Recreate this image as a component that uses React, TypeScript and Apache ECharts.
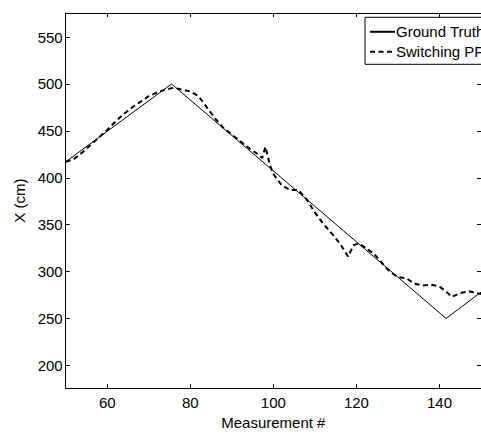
import React, { useEffect, useRef } from "react";
import * as echarts from "echarts";

const xTicks = [60, 80, 100, 120, 140];
const yTicks = [200, 250, 300, 350, 400, 450, 500, 550];

const truthX = [50, 75.5, 141.6, 150];
const truthY = [417, 500, 250, 278];

const pfX = [50, 52, 54, 56, 58, 60, 62, 64, 66, 68, 70, 72, 74, 76, 78, 80, 82, 84, 86, 88, 90, 92, 94, 96, 97.3, 98.1, 99.2, 100, 102, 104, 106, 108, 110, 112, 114, 116, 118, 119.3, 120.5, 122, 123.2, 124, 126, 128, 130, 132, 134, 136, 138, 140, 141.5, 143, 145, 147, 150];
const pfY = [417, 420, 427, 435, 443, 451, 460, 468, 475, 481, 487, 491, 494, 496, 494, 492, 487, 475, 463, 453, 446, 439, 432, 426, 421, 433, 413, 404, 392, 387, 387, 377, 363, 351, 341, 330, 316, 328, 330, 326, 322, 320, 310, 300, 294, 293, 287, 285, 286, 284, 279, 273, 277, 279, 276];

const FONT = "'Liberation Sans', Arial, Helvetica, sans-serif";

export default function App() {
  const ref = useRef<HTMLDivElement>(null);
  useEffect(() => {
    if (!ref.current) return;
    const chart = echarts.init(ref.current, undefined, { renderer: "svg" });
    const axisLine = { show: true, onZero: false, lineStyle: { color: "#000", width: 1 } };
    chart.setOption({
      animation: false,
      backgroundColor: "#fff",
      textStyle: { fontFamily: FONT },
      grid: { left: 65.7, right: -9.7, top: 13, bottom: 42.7, containLabel: false },
      legend: {
        orient: "vertical",
        left: 365,
        top: 17.3,
        padding: [6, 4, 4, 4],
        itemGap: 3,
        itemWidth: 25,
        itemHeight: 10,
        backgroundColor: "#fff",
        borderColor: "#000",
        borderWidth: 1,
        borderRadius: 0,
        itemStyle: { opacity: 0 },
        textStyle: { fontFamily: FONT, fontSize: 15, color: "#000", lineHeight: 17, padding: [0, 0, 0, -4] },
        data: ["Ground Truth", "Switching PF"],
      },
      xAxis: [
        {
          type: "value",
          min: 50,
          max: 150,
          position: "bottom",
          name: "Measurement #",
          nameLocation: "middle",
          nameGap: 22,
          nameTextStyle: { fontFamily: FONT, fontSize: 15, color: "#000" },
          axisLine,
          axisTick: { show: true, inside: true, length: 4, customValues: xTicks, lineStyle: { color: "#000" } },
          axisLabel: { customValues: xTicks, margin: 7, fontFamily: FONT, fontSize: 15, color: "#000" },
          splitLine: { show: false },
        },
        {
          type: "value",
          min: 50,
          max: 150,
          position: "top",
          axisLine,
          axisTick: { show: true, inside: true, length: 4, customValues: xTicks, lineStyle: { color: "#000" } },
          axisLabel: { show: false },
          splitLine: { show: false },
        },
      ],
      yAxis: [
        {
          type: "value",
          min: 175.7,
          max: 575.7,
          position: "left",
          name: "X (cm)",
          nameLocation: "middle",
          nameGap: 31,
          nameTextStyle: { fontFamily: FONT, fontSize: 15, color: "#000" },
          axisLine,
          axisTick: { show: true, inside: true, length: 4, customValues: yTicks, lineStyle: { color: "#000" } },
          axisLabel: { customValues: yTicks, margin: 3, fontFamily: FONT, fontSize: 15, color: "#000" },
          splitLine: { show: false },
        },
        {
          type: "value",
          min: 175.7,
          max: 575.7,
          position: "right",
          axisLine,
          axisTick: { show: true, inside: true, length: 4, customValues: yTicks, lineStyle: { color: "#000" } },
          axisLabel: { show: false },
          splitLine: { show: false },
        },
      ],
      series: [
        {
          name: "Ground Truth",
          type: "line",
          data: truthX.map((x, i) => [x, truthY[i]]),
          symbol: "none",
          lineStyle: { color: "#000", width: 1, type: "solid" },
          itemStyle: { color: "#000" },
        },
        {
          name: "Switching PF",
          type: "line",
          data: pfX.map((x, i) => [x, pfY[i]]),
          symbol: "none",
          lineStyle: { color: "#000", width: 2, type: [5, 3.5] },
          itemStyle: { color: "#000" },
        },
      ],
    });
    return () => chart.dispose();
  }, []);
  return <div ref={ref} style={{ position: "fixed", left: 0, top: 0, width: 481, height: 435 }} />;
}
